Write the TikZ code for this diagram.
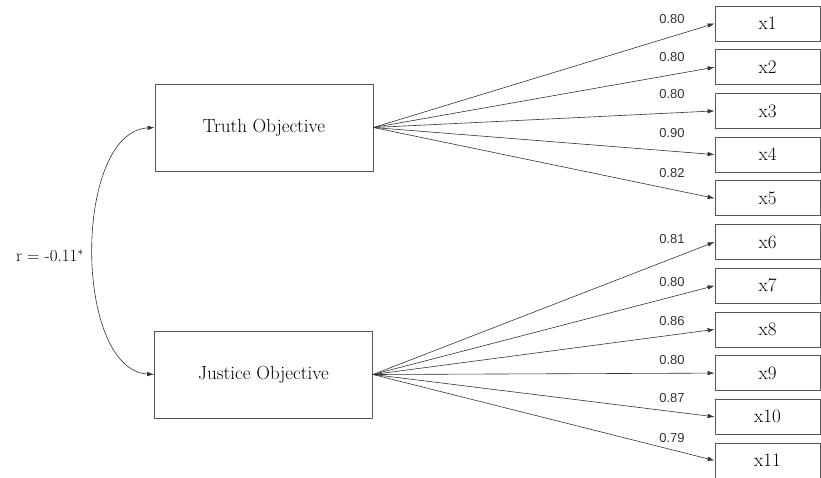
\documentclass[tikz,border=0pt]{standalone}
\usepackage{fontspec}
\newfontfamily\numfont{Liberation Sans}
\usetikzlibrary{arrows.meta}
\definecolor{boxline}{HTML}{555555}
\definecolor{arrline}{HTML}{333333}
\begin{document}
\begin{tikzpicture}[x=1pt,y=-1pt,
  latent/.style={draw=boxline,line width=0.8pt,minimum width=218pt,minimum height=87pt,inner sep=0pt,font=\fontsize{19}{21}\selectfont},
  obs/.style={draw=boxline,line width=0.8pt,minimum width=105pt,minimum height=35pt,inner sep=0pt,font=\fontsize{19}{21}\selectfont},
  load/.style={font=\numfont\fontsize{13}{15}\selectfont,text=black!80,inner sep=0pt},
  conn/.style={draw=arrline,line width=0.6pt,-{Latex[length=7pt,width=4.5pt]}}]
\useasboundingbox (0,0) rectangle (821,477);
\node[latent] (T) at (264,127.5) {Truth Objective};
\node[latent] (J) at (263.5,374.5) {Justice Objective};
\foreach \i in {1,...,11} {
  \node[obs] (x\i) at (767.5,{23.5+43.7*(\i-1)}) {x\i};
}
\foreach \i in {1,...,5} {
  \draw[conn] (T.east) -- (x\i.west);
}
\foreach \i in {6,...,11} {
  \draw[conn] (J.east) -- (x\i.west);
}
\node[load] (l1) at (672,19) {0.80};
\node[load] (l2) at (672,57) {0.80};
\node[load] (l3) at (672,94) {0.80};
\node[load] (l4) at (672,133) {0.90};
\node[load] (l5) at (672,173) {0.82};
\node[load] (l6) at (672,239) {0.81};
\node[load] (l7) at (672,282) {0.80};
\node[load] (l8) at (672,321) {0.86};
\node[load] (l9) at (672,360) {0.80};
\node[load] (l10) at (672,398) {0.87};
\node[load] (l11) at (672,438) {0.79};
\draw[conn,{Latex[length=7pt,width=4.5pt]}-{Latex[length=7pt,width=4.5pt]}] (T.west) .. controls (73,132) and (73,369) .. (J.west);
\node[font=\fontsize{17}{19}\selectfont,inner sep=0pt] (r) at (50,256) {r = -0.11$^{*}$};
\end{tikzpicture}
\end{document}
